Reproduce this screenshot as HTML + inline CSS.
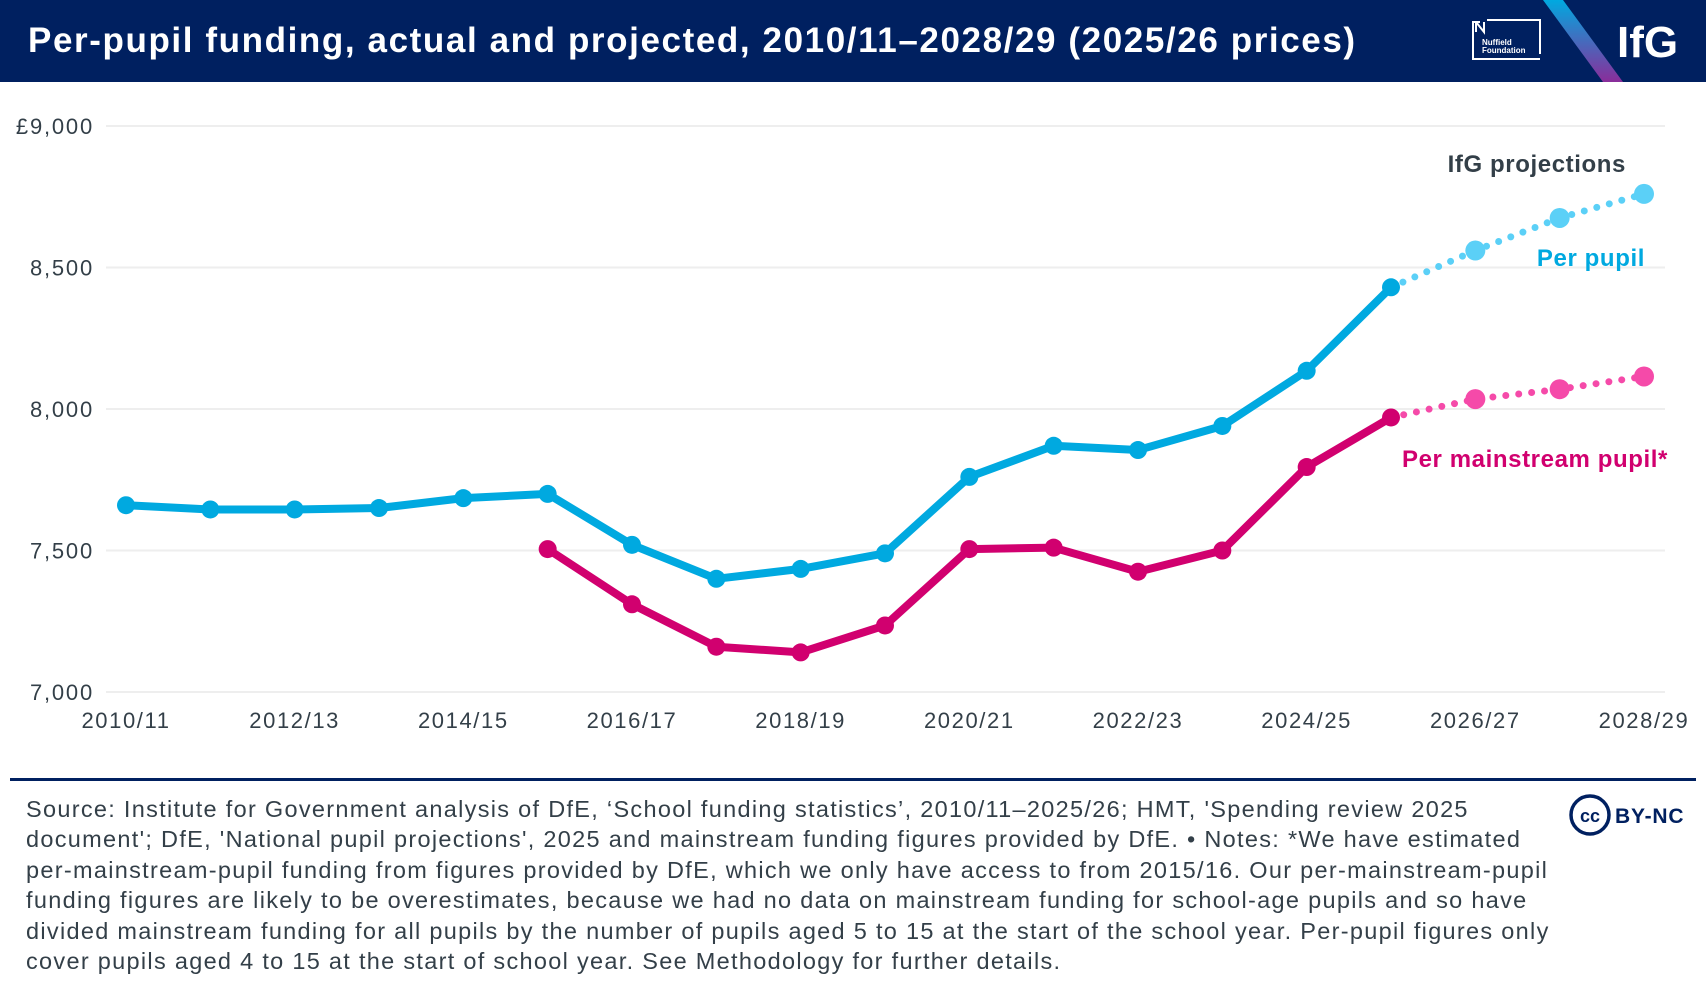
<!DOCTYPE html>
<html><head><meta charset="utf-8"><style>
body{margin:0;width:1706px;height:988px;background:#fff;font-family:"Liberation Sans",sans-serif;overflow:hidden;position:relative}
#hdr{position:absolute;left:0;top:0;width:1706px;height:82px;background:#002060}
#title{position:absolute;left:28px;top:21px;font-size:35px;font-weight:bold;color:#fff;white-space:nowrap;letter-spacing:1.6px}
#foot{position:absolute;left:26px;top:794px;font-size:23.5px;line-height:30.4px;color:#333f48;white-space:nowrap;letter-spacing:1.3px}
</style></head><body>
<div id="hdr">
<div id="title">Per-pupil funding, actual and projected, 2010/11–2028/29 (2025/26 prices)</div>
<svg width="1706" height="82" style="position:absolute;left:0;top:0">
<defs><linearGradient id="g" x1="0" y1="0" x2="0" y2="1"><stop offset="0" stop-color="#00a9e0"/><stop offset="1" stop-color="#8a2d9a"/></linearGradient></defs>
<g>
<polyline points="1480,22 1473,22 1473,59 1540,59" fill="none" stroke="#fff" stroke-width="2"/>
<polyline points="1487,20 1540,20 1540,54" fill="none" stroke="#fff" stroke-width="2"/>
<path d="M1476,22 L1476,32 M1476,22 L1484,32 L1484,22" stroke="#fff" stroke-width="2" fill="none"/>
<text x="1482" y="45" font-size="8" font-weight="bold" fill="#fff" font-family="Liberation Sans">Nuffield</text>
<text x="1482" y="53" font-size="8" font-weight="bold" fill="#fff" font-family="Liberation Sans">Foundation</text>
</g>
<polygon points="1543,0 1563,0 1623,82 1603,82" fill="url(#g)"/>
<text x="1617" y="57" font-size="44" font-weight="bold" fill="#fff" font-family="Liberation Sans">IfG</text>
</svg>
</div>
<svg id="chart" width="1706" height="775" style="position:absolute;left:0;top:0"></svg>
<div style="position:absolute;left:10px;top:778px;width:1686px;height:3px;background:#002060"></div>
<div id="foot">Source: Institute for Government analysis of DfE, ‘School funding statistics’, 2010/11–2025/26; HMT, 'Spending review 2025<br>document'; DfE, 'National pupil projections', 2025 and mainstream funding figures provided by DfE. • Notes: *We have estimated<br>per-mainstream-pupil funding from figures provided by DfE, which we only have access to from 2015/16. Our per-mainstream-pupil<br>funding figures are likely to be overestimates, because we had no data on mainstream funding for school-age pupils and so have<br>divided mainstream funding for all pupils by the number of pupils aged 5 to 15 at the start of the school year. Per-pupil figures only<br>cover pupils aged 4 to 15 at the start of school year. See Methodology for further details.</div>
<svg width="130" height="50" style="position:absolute;left:1566px;top:792px">
<circle cx="24" cy="23" r="19" fill="#fff" stroke="#002060" stroke-width="3.5"/>
<text x="24" y="30" font-size="18" font-weight="bold" text-anchor="middle" fill="#002060" font-family="Liberation Sans">cc</text>
<text x="49" y="31" font-size="21" font-weight="bold" fill="#002060" font-family="Liberation Sans" letter-spacing="0.8">BY-NC</text>
</svg>
<script>
const years=["2010/11","2011/12","2012/13","2013/14","2014/15","2015/16","2016/17","2017/18","2018/19","2019/20","2020/21","2021/22","2022/23","2023/24","2024/25","2025/26","2026/27","2027/28","2028/29"];
const perPupil=[7660,7645,7645,7650,7685,7700,7520,7400,7435,7490,7760,7870,7855,7940,8135,8430,8560,8675,8760];
const mainstream=[null,null,null,null,null,7505,7310,7160,7140,7235,7505,7510,7425,7500,7795,7970,8035,8070,8115];
const yTicks=[7000,7500,8000,8500,9000];
const xTickLabels=["2010/11","2012/13","2014/15","2016/17","2018/19","2020/21","2022/23","2024/25","2026/27","2028/29"];
const firstProj=15;
const NS="http://www.w3.org/2000/svg";
const svg=document.getElementById('chart');
const x0=126,x1=1644,yBase=692,yTop=126;
function x(i){return x0+(x1-x0)*i/(years.length-1);}
function y(v){return yBase-(v-7000)/(9000-7000)*(yBase-yTop);}
function mk(t,a){const e=document.createElementNS(NS,t);for(const k in a)e.setAttribute(k,a[k]);svg.appendChild(e);return e;}
yTicks.forEach(v=>{
 const l=mk('line',{x1:106,x2:1665,y1:y(v),y2:y(v),stroke:'#eeeeee','stroke-width':2});
 
 
 const t=mk('text',{x:94,y:y(v)+8,'text-anchor':'end','font-size':22,fill:'#333f48','font-family':'Liberation Sans','letter-spacing':1.8});
 t.textContent=(v===9000?'£':'')+v.toLocaleString('en-GB');
 
 
});
xTickLabels.forEach(lb=>{
 const i=years.indexOf(lb);
 const t=mk('text',{x:x(i),y:728,'text-anchor':'middle','font-size':22,fill:'#333f48','font-family':'Liberation Sans','letter-spacing':1.6});
 t.textContent=lb;
 
 
});
function series(vals,col,pcol,name){
 const act=[],proj=[];
 vals.forEach((v,i)=>{if(v===null)return;if(i<=firstProj)act.push(x(i)+','+y(v));if(i>=firstProj)proj.push(x(i)+','+y(v));});
 const pl=mk('polyline',{points:proj.join(' '),fill:'none',stroke:pcol,'stroke-width':7,'stroke-dasharray':'0 13','stroke-linecap':'round'});
 
 
 const al=mk('polyline',{points:act.join(' '),fill:'none',stroke:col,'stroke-width':8,'stroke-linejoin':'round'});
 
 
 vals.forEach((v,i)=>{if(v===null)return;
  const c=mk('circle',{cx:x(i),cy:y(v),r:i>firstProj?10:9,fill:i>firstProj?pcol:col});
  
  
 });
}
series(perPupil,'#00a9e0','#5bd0f7','per-pupil');
series(mainstream,'#d1006f','#f54aa9','per-mainstream-pupil');
function lab(txt,xx,yy,col,name){const t=mk('text',{x:xx,y:yy,'text-anchor':'end','font-size':24,'font-weight':'bold',fill:col,'font-family':'Liberation Sans','letter-spacing':0.6});t.textContent=txt;
 
 }
lab('IfG projections',1626,172,'#333f48','projections-label');
lab('Per pupil',1645,266,'#00a9e0','per-pupil-label');
lab('Per mainstream pupil*',1668,467,'#d1006f','per-mainstream-pupil-label');
</script>
</body></html>
